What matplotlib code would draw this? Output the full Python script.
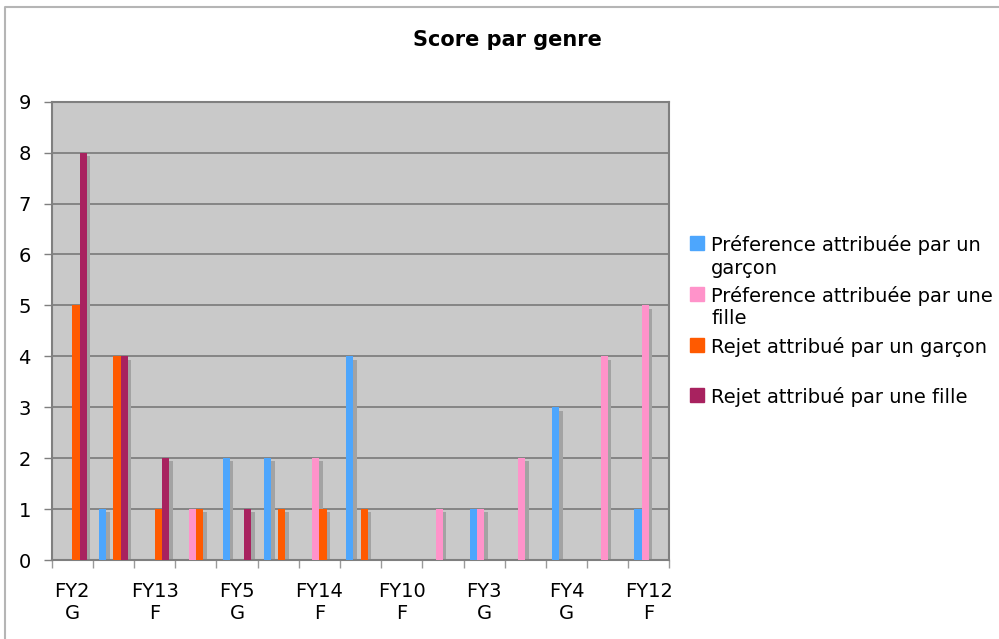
import matplotlib
matplotlib.use("Agg")
import matplotlib.pyplot as plt
from matplotlib.patches import Rectangle
from matplotlib.lines import Line2D
import numpy as np

# 15 categories, only every other one gets a label on the x axis
n_categories = 15
tick_labels = ["FY2\nG", "FY13\nF", "FY5\nG", "FY14\nF", "FY10\nF", "FY3\nG", "FY4\nG", "FY12\nF"]

series_names = [
    "Préference attribuée par un\ngarçon",
    "Préference attribuée par une\nfille",
    "Rejet attribué par un garçon",
    "Rejet attribué par une fille",
]
pref_garcon = [0, 1, 0, 0, 2, 2, 0, 4, 0, 0, 1, 0, 3, 0, 1]
pref_fille = [0, 0, 0, 1, 0, 0, 2, 0, 0, 1, 1, 2, 0, 4, 5]
rejet_garcon = [5, 4, 1, 1, 0, 1, 1, 1, 0, 0, 0, 0, 0, 0, 0]
rejet_fille = [8, 4, 2, 0, 1, 0, 0, 0, 0, 0, 0, 0, 0, 0, 0]
series_values = [pref_garcon, pref_fille, rejet_garcon, rejet_fille]
colors = ["#4da6fd", "#ff93ca", "#ff5a00", "#a8225f"]

W, H = 999, 639
fig = plt.figure(figsize=(W / 100, H / 100), dpi=100)
ax = fig.add_axes([51.7 / W, 1 - 560 / H, (669.5 - 51.7) / W, (560 - 101.7) / H])
ax.set_facecolor("#c9c9c9")

x = np.arange(n_categories)
bar_w = 0.175
shadow_dx, shadow_dy = 0.085, 0.065
for k, (vals, col) in enumerate(zip(series_values, colors)):
    pos = x - 0.35 + bar_w * k + bar_w / 2
    vals = np.array(vals, dtype=float)
    # grey drop shadow behind each bar
    sh = vals > 0
    ax.bar(pos[sh] + shadow_dx, vals[sh] - shadow_dy, width=bar_w, color="#a3a3a3",
           zorder=2, linewidth=0)
    ax.bar(pos, vals, width=bar_w, color=col, zorder=3, linewidth=0)

ax.set_xlim(-0.5, n_categories - 0.5)
ax.set_ylim(0, 9)
ax.set_yticks(range(10))
ax.yaxis.grid(True, color="#7f7f7f", linewidth=1.3, zorder=1)
ax.set_axisbelow(True)

# boundary ticks (unlabelled) and labels under every second category
ax.set_xticks(np.arange(-0.5, n_categories, 1.0))
ax.set_xticklabels([])
ax.set_xticks(np.arange(0, n_categories, 2), minor=True)
ax.set_xticklabels(tick_labels, minor=True, fontsize=14, linespacing=1.2)
ax.tick_params(axis="x", which="major", length=6, color="#9a9a9a", width=1)
ax.tick_params(axis="x", which="minor", length=0, pad=16)
ax.tick_params(axis="y", length=6, color="#7f7f7f", width=1, labelsize=14, pad=9)

for s in ax.spines.values():
    s.set_color("#7f7f7f")
    s.set_linewidth(1.5)

fig.text(507 / W, 1 - 40 / H, "Score par genre", fontsize=15, fontweight="bold",
         ha="center", va="center")

# legend, one square and label per series
legend_base = [251, 302, 353, 403]
for name, col, yb in zip(series_names, colors, legend_base):
    fig.patches.append(Rectangle((690 / W, 1 - (yb - 1) / H), 14 / W, 14 / H,
                                 transform=fig.transFigure, color=col))
    lines = name.split("\n")
    fig.text(711 / W, 1 - yb / H, lines[0], fontsize=14, ha="left", va="baseline")
    if len(lines) > 1:
        fig.text(711 / W, 1 - (yb + 22.5) / H, lines[1], fontsize=14,
                 ha="left", va="baseline")

# light frame round the chart
fig.lines.append(Line2D([5 / W, 5 / W, 1], [0, 1 - 7 / H, 1 - 7 / H],
                        transform=fig.transFigure, color="#b5b5b5", linewidth=1.5))

fig.savefig("out.png", dpi=100)
